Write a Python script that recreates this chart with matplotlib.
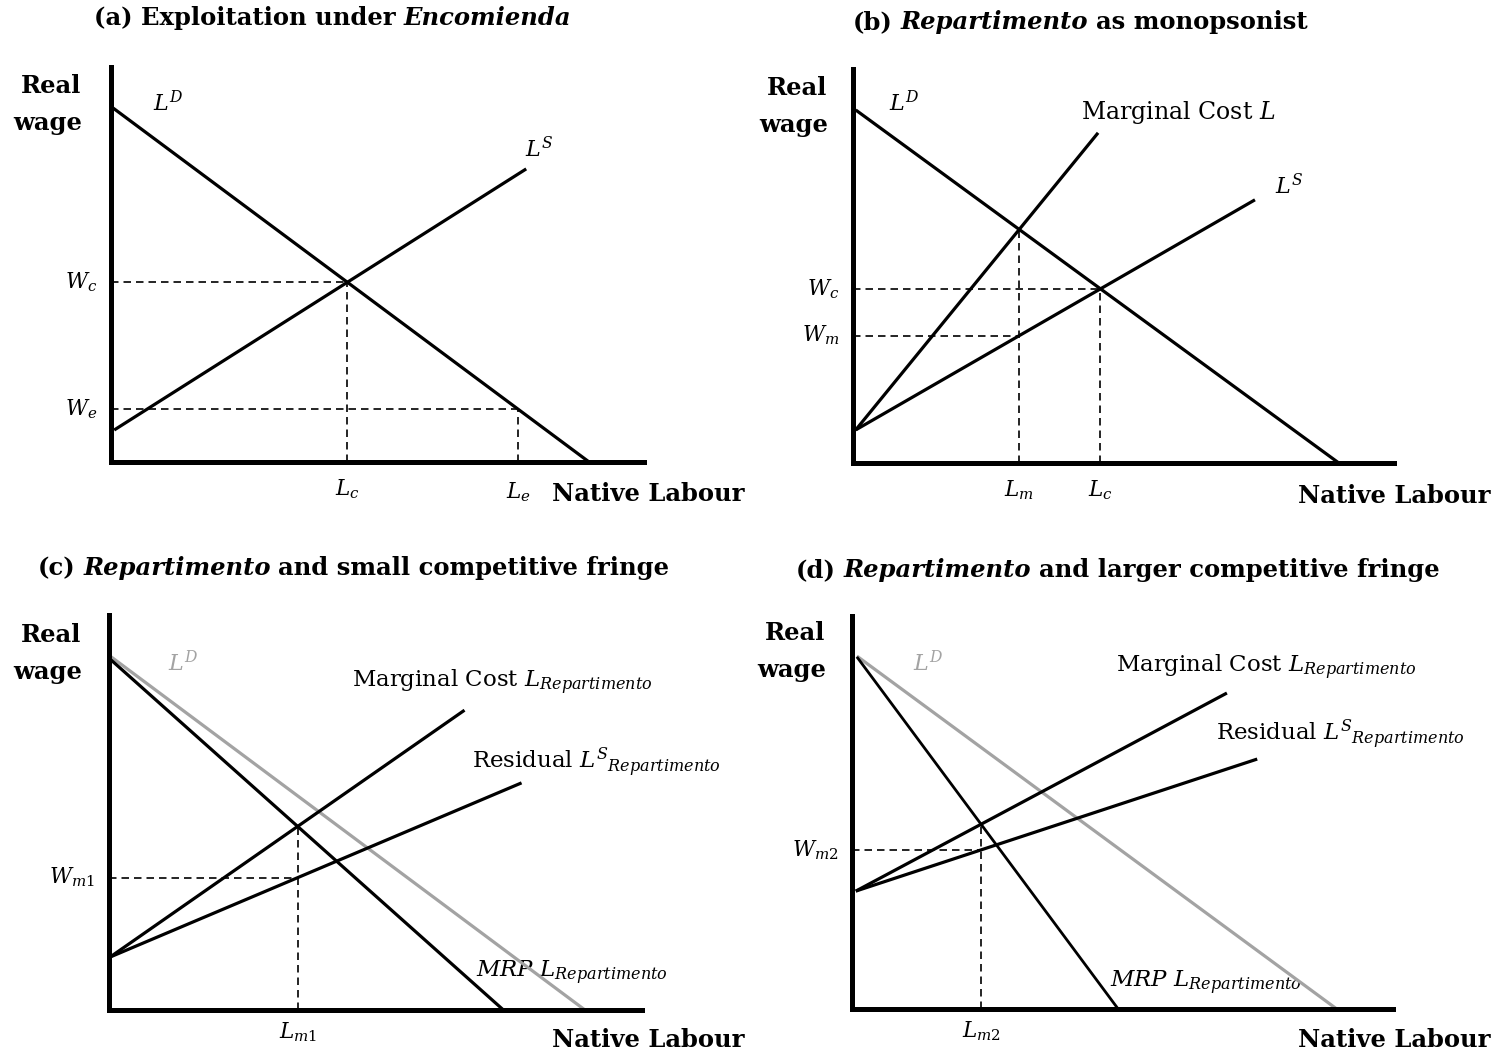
import matplotlib
matplotlib.use("Agg")
import matplotlib.pyplot as plt
import numpy as np

plt.rcParams['font.family'] = ['DejaVu Serif']
plt.rcParams['mathtext.fontset'] = 'dejavuserif'

W, H = 1492, 1057
GRAY = '#a3a3a3'

# ---------------- data (curve end points, in diagram units 0..10) -------------
# Panel (a)
a_LD_x = [0.04, 8.97]; a_LD_y = [8.96, 0.00]
a_LS_x = [0.06, 7.79]; a_LS_y = [0.81, 7.42]
a_We = 1.34
# Panel (b)
b_LD_x = [0.05, 8.98]; b_LD_y = [8.96, 0.00]
b_MC_x = [0.05, 4.53]; b_MC_y = [0.84, 8.38]
b_LS_x = [0.05, 7.43]; b_LS_y = [0.84, 6.68]
# Panel (c)
c_LD_x = [0.04, 8.93]; c_LD_y = [8.94, 0.00]
c_MRP_x = [0.04, 7.40]; c_MRP_y = [8.86, 0.00]
c_MC_x = [0.02, 6.67]; c_MC_y = [1.34, 7.59]
c_LS_x = [0.02, 7.74]; c_LS_y = [1.34, 5.75]
# Panel (d)
d_LD_x = [0.09, 8.96]; d_LD_y = [8.98, 0.00]
d_MRP_x = [0.09, 4.92]; d_MRP_y = [8.96, 0.00]
d_MC_x = [0.07, 6.93]; d_MC_y = [3.00, 8.04]
d_LS_x = [0.07, 7.49]; d_LS_y = [3.00, 6.36]

# ---------------- helpers ----------------
def line_coef(xs, ys):
    m = (ys[1] - ys[0]) / (xs[1] - xs[0])
    return m, ys[0] - m * xs[0]

def intersect(l1, l2):
    m1, c1 = line_coef(*l1)
    m2, c2 = line_coef(*l2)
    x = (c2 - c1) / (m1 - m2)
    return x, m1 * x + c1

def y_at(l, x):
    m, c = line_coef(*l)
    return m * x + c

def x_at(l, y):
    m, c = line_coef(*l)
    return (y - c) / m

fig = plt.figure(figsize=(W / 100, H / 100), dpi=100)
base = fig.add_axes([0, 0, 1, 1])
base.set_xlim(0, W); base.set_ylim(H, 0)
base.axis('off')

def make_axes(left, top, right, bottom):
    ax = fig.add_axes([left / W, 1 - bottom / H, (right - left) / W, (bottom - top) / H])
    ax.set_xlim(0, 10); ax.set_ylim(0, 10)
    ax.patch.set_visible(False)
    for s in ['top', 'right']:
        ax.spines[s].set_visible(False)
    for s in ['left', 'bottom']:
        ax.spines[s].set_linewidth(3.6)
        ax.spines[s].set_capstyle('projecting')
    ax.set_xticks([]); ax.set_yticks([])
    return ax

LW = 2.3
DASH = dict(color='black', lw=1.2, linestyle=(0, (4.5, 3)), clip_on=False)
BOLD = dict(fontsize=17.5, fontweight='bold')
REG = 15.5
LAB = 16.5

def curve(ax, xs, ys, color='black', lw=LW):
    ax.plot(xs, ys, color=color, lw=lw, solid_capstyle='butt', clip_on=False)

def guide_v(ax, x, y):
    ax.plot([x, x], [0, y], **DASH)

def guide_h(ax, x, y):
    ax.plot([0, x], [y, y], **DASH)

def xlabel(ax, x, s, dy=-27):
    ax.annotate(s, xy=(x, 0), xytext=(0, dy), textcoords='offset pixels',
                ha='center', va='center', fontsize=REG, annotation_clip=False)

def ylabel(ax, y, s):
    ax.annotate(s, xy=(0, y), xytext=(-14, 0), textcoords='offset pixels',
                ha='right', va='center', fontsize=REG, annotation_clip=False)

def txt(x, y, s, ha='center', color='black', **kw):
    kw.setdefault('fontsize', REG)
    base.text(x, y, s, ha=ha, va='center', color=color, **kw)

def title(x, y, pieces):
    t = base.text(x, y, pieces[0][0], ha='left', va='center', fontstyle=pieces[0][1], **BOLD)
    for s, style in pieces[1:]:
        t = base.annotate(s, xy=(1, 0), xycoords=t, xytext=(5.5, 0), textcoords='offset points',
                          ha='left', va='bottom', fontstyle=style, **BOLD)

def realwage(x, y):
    txt(x, y, 'Real', **BOLD)
    txt(x - 3, y + 37, 'wage', **BOLD)

# ---------------- Panel (a) ----------------
axA = make_axes(111, 67, 644, 462)
LD = (a_LD_x, a_LD_y); LS = (a_LS_x, a_LS_y)
curve(axA, *LD); curve(axA, *LS)
px, py = intersect(LD, LS)
guide_h(axA, px, py); guide_v(axA, px, py)
xe = x_at(LD, a_We)
guide_h(axA, xe, a_We); guide_v(axA, xe, a_We)
ylabel(axA, py, r'$W_c$'); ylabel(axA, a_We, r'$W_e$')
xlabel(axA, px, r'$L_c$'); xlabel(axA, xe, r'$L_e$', dy=-30)
title(94, 18, [('(a) Exploitation under', 'normal'), ('Encomienda', 'italic')])
realwage(51, 86)
txt(168, 104, r'$L^D$', fontsize=16)
txt(539, 150, r'$L^S$', fontsize=16)
txt(745, 494, 'Native Labour', ha='right', **BOLD)

# ---------------- Panel (b) ----------------
axB = make_axes(853, 69, 1394, 463)
LD = (b_LD_x, b_LD_y); MC = (b_MC_x, b_MC_y); LS = (b_LS_x, b_LS_y)
curve(axB, *LD); curve(axB, *MC); curve(axB, *LS)
cx, cy = intersect(LD, LS)
guide_h(axB, cx, cy); guide_v(axB, cx, cy)
mx, my = intersect(LD, MC)
wm = y_at(LS, mx)
guide_v(axB, mx, my); guide_h(axB, mx, wm)
ylabel(axB, cy, r'$W_c$'); ylabel(axB, wm, r'$W_m$')
xlabel(axB, mx, r'$L_m$'); xlabel(axB, cx, r'$L_c$')
title(853, 22, [('(b)', 'normal'), ('Repartimento', 'italic'), ('as monopsonist', 'normal')])
realwage(797, 88)
txt(904, 104, r'$L^D$', fontsize=16)
txt(1081, 112, r'Marginal Cost $L$', ha='left', fontsize=17)
txt(1289, 187, r'$L^S$', fontsize=16)
txt(1490, 496, 'Native Labour', ha='right', **BOLD)

# ---------------- Panel (c) ----------------
axC = make_axes(109, 615, 642, 1010)
LD = (c_LD_x, c_LD_y); MRP = (c_MRP_x, c_MRP_y); MC = (c_MC_x, c_MC_y); LS = (c_LS_x, c_LS_y)
curve(axC, *LD, color=GRAY)
curve(axC, *MRP); curve(axC, *MC); curve(axC, *LS)
mx, my = intersect(MRP, MC)
wm = y_at(LS, mx)
guide_v(axC, mx, my); guide_h(axC, mx, wm)
ylabel(axC, wm, r'$W_{m1}$')
xlabel(axC, mx, r'$L_{m1}$', dy=-22)
title(38, 568, [('(c)', 'normal'), ('Repartimento', 'italic'), ('and small competitive fringe', 'normal')])
realwage(51, 635)
txt(183, 664, r'$L^D$', color=GRAY, fontsize=16)
txt(352, 682, r'Marginal Cost $L_{Repartimento}$', ha='left', fontsize=LAB)
txt(472, 762, r'Residual $L^{S}{}_{Repartimento}$', ha='left', fontsize=LAB)
txt(476, 973, r'$MRP\ L_{Repartimento}$', ha='left', fontsize=LAB)
txt(745, 1040, 'Native Labour', ha='right', **BOLD)

# ---------------- Panel (d) ----------------
axD = make_axes(852, 616, 1393, 1009)
LD = (d_LD_x, d_LD_y); MRP = (d_MRP_x, d_MRP_y); MC = (d_MC_x, d_MC_y); LS = (d_LS_x, d_LS_y)
curve(axD, *LD, color=GRAY)
curve(axD, *MRP, lw=2.0); curve(axD, *MC); curve(axD, *LS)
mx, my = intersect(MRP, MC)
wm = y_at(LS, mx)
guide_v(axD, mx, my); guide_h(axD, mx, wm)
ylabel(axD, wm, r'$W_{m2}$')
xlabel(axD, mx, r'$L_{m2}$', dy=-22)
title(796, 570, [('(d)', 'normal'), ('Repartimento', 'italic'), ('and larger competitive fringe', 'normal')])
realwage(795, 633)
txt(928, 664, r'$L^D$', color=GRAY, fontsize=16)
txt(1116, 667, r'Marginal Cost $L_{Repartimento}$', ha='left', fontsize=LAB)
txt(1216, 734, r'Residual $L^{S}{}_{Repartimento}$', ha='left', fontsize=LAB)
txt(1110, 983, r'$MRP\ L_{Repartimento}$', ha='left', fontsize=LAB)
txt(1490, 1040, 'Native Labour', ha='right', **BOLD)

fig.savefig('out.png', dpi=100)
